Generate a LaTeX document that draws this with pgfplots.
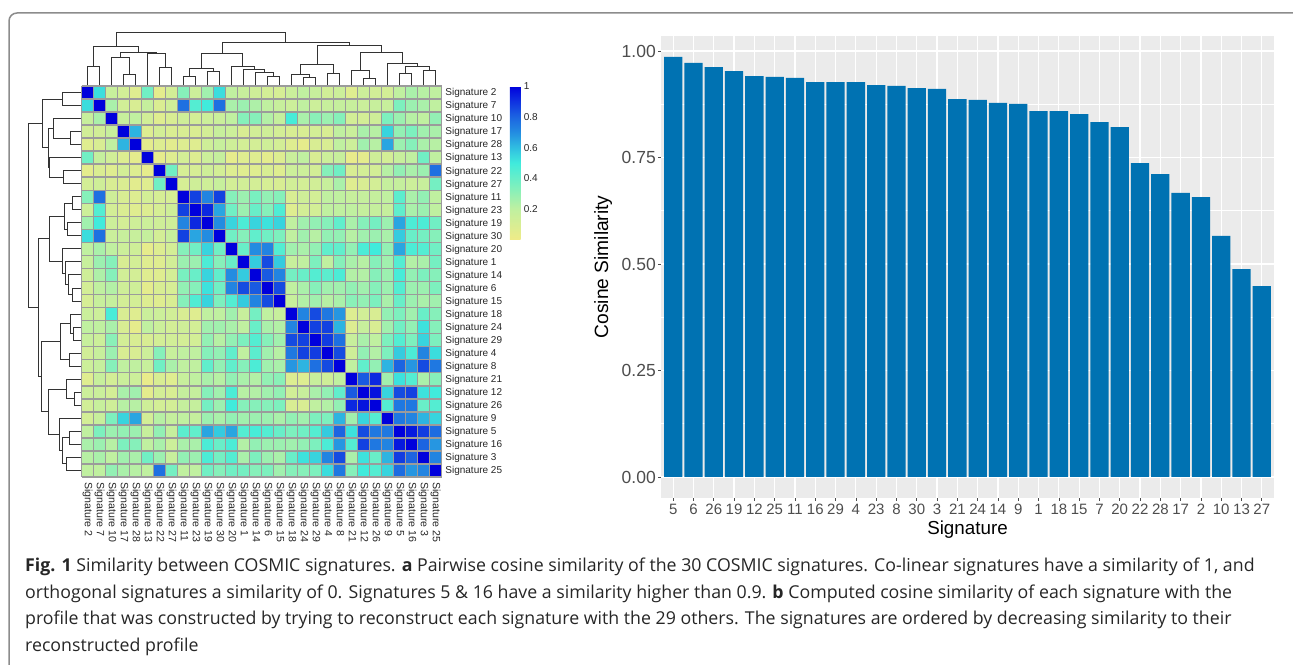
\documentclass[border=0pt]{standalone}
\usepackage{fontspec}
\setmainfont{Liberation Sans}
\newfontfamily\capfont{Open Sans}
\usepackage{pgfplots}
\usepackage{pgfplotstable}
\pgfplotsset{compat=1.18}
\definecolor{cellgray}{RGB}{155,155,155}
\definecolor{barblue}{RGB}{0,114,178}
\definecolor{panelgray}{RGB}{235,235,235}
\definecolor{ticktext}{RGB}{77,77,77}
\definecolor{framegray}{RGB}{140,140,140}
\pgfdeclareplotmark{cell}{%
  \pgfpathrectangle{\pgfpoint{-6.1pt}{-6.6pt}}{\pgfpoint{12.2pt}{13.2pt}}%
  \pgfusepathqfill}
\pgfplotstableread[header=false]{
1 .53 .17 .13 .07 .38 .05 .12 .33 .15 .27 .53 .2 .17 .14 .12 .11 .16 .2 .17 .13 .15 .07 .15 .13 .12 .2 .25 .22 .2
.53 1 .25 .13 .1 .18 .09 .14 .77 .45 .5 .77 .25 .28 .24 .2 .17 .15 .2 .15 .17 .18 .17 .16 .17 .17 .35 .28 .25 .2
.17 .25 1 .17 .2 .13 .07 .1 .14 .12 .15 .16 .2 .33 .33 .23 .18 .48 .25 .32 .28 .33 .12 .12 .14 .35 .28 .22 .2 .3
.13 .13 .17 1 .62 .08 .12 .09 .1 .09 .12 .17 .15 .1 .13 .14 .12 .1 .1 .12 .1 .2 .16 .25 .22 .55 .3 .35 .27 .25
.07 .1 .2 .62 1 .05 .08 .06 .08 .07 .14 .17 .14 .12 .12 .14 .12 .07 .04 .1 .1 .2 .15 .27 .22 .65 .28 .33 .25 .22
.38 .18 .13 .08 .05 1 .04 .07 .12 .08 .15 .18 .04 .07 .07 .05 .08 .16 .2 .1 .15 .17 .03 .05 .14 .12 .17 .2 .38 .2
.05 .09 .07 .12 .08 .04 1 .38 .11 .11 .14 .12 .08 .07 .07 .1 .07 .15 .15 .12 .33 .38 .1 .12 .12 .22 .3 .25 .28 .77
.12 .14 .1 .09 .06 .07 .38 1 .11 .14 .14 .17 .12 .13 .12 .11 .1 .13 .12 .13 .17 .25 .07 .1 .12 .18 .18 .15 .17 .37
.33 .77 .14 .1 .08 .12 .11 .11 1 .87 .72 .87 .33 .28 .36 .3 .33 .1 .14 .12 .2 .2 .17 .18 .18 .2 .43 .25 .3 .2
.15 .45 .12 .09 .07 .08 .11 .14 .87 1 .92 .65 .38 .28 .4 .33 .46 .07 .12 .12 .2 .2 .2 .18 .18 .18 .42 .25 .28 .2
.27 .5 .15 .12 .14 .15 .14 .14 .72 .92 1 .7 .55 .47 .55 .52 .55 .2 .27 .3 .33 .42 .25 .33 .37 .28 .65 .47 .47 .38
.53 .77 .16 .17 .17 .18 .12 .17 .87 .65 .7 1 .38 .33 .42 .38 .35 .2 .27 .22 .3 .3 .22 .27 .28 .25 .57 .4 .37 .33
.2 .25 .2 .15 .14 .04 .08 .12 .33 .38 .55 .38 1 .4 .7 .72 .45 .27 .25 .3 .42 .42 .3 .47 .5 .3 .65 .47 .45 .38
.17 .28 .33 .1 .12 .07 .07 .13 .28 .28 .47 .33 .4 1 .57 .85 .57 .17 .2 .35 .2 .33 .25 .22 .33 .27 .45 .23 .25 .37
.14 .24 .33 .13 .12 .07 .07 .12 .36 .4 .55 .42 .7 .57 1 .82 .72 .37 .4 .45 .43 .47 .23 .23 .33 .28 .48 .3 .35 .33
.12 .2 .23 .14 .14 .05 .1 .11 .3 .33 .52 .38 .72 .85 .82 1 .85 .2 .25 .33 .27 .27 .3 .27 .33 .28 .45 .28 .28 .35
.11 .17 .18 .12 .12 .08 .07 .1 .33 .46 .55 .35 .45 .57 .72 .85 1 .17 .23 .27 .22 .25 .32 .3 .35 .25 .4 .28 .25 .27
.16 .15 .48 .1 .07 .16 .15 .13 .1 .07 .2 .2 .27 .17 .37 .2 .17 1 .72 .85 .75 .68 .08 .13 .1 .3 .35 .27 .4 .33
.2 .2 .25 .1 .04 .2 .15 .12 .14 .12 .27 .27 .25 .2 .4 .25 .23 .72 1 .87 .87 .62 .08 .17 .1 .27 .38 .3 .52 .33
.17 .15 .32 .12 .1 .1 .12 .13 .12 .12 .3 .22 .3 .35 .45 .33 .27 .85 .87 1 .88 .77 .17 .25 .2 .35 .45 .35 .55 .35
.13 .17 .28 .1 .1 .15 .33 .17 .2 .2 .33 .3 .42 .2 .43 .27 .22 .75 .87 .88 1 .85 .14 .3 .23 .35 .57 .47 .72 .53
.15 .18 .33 .2 .2 .17 .38 .25 .2 .2 .42 .3 .42 .33 .47 .27 .25 .68 .62 .77 .85 1 .2 .42 .3 .62 .8 .68 .85 .75
.07 .17 .12 .16 .15 .03 .1 .07 .17 .2 .25 .22 .3 .25 .23 .3 .32 .08 .08 .17 .14 .2 1 .82 .92 .27 .52 .45 .25 .33
.15 .16 .12 .25 .27 .05 .12 .1 .18 .18 .33 .27 .47 .22 .23 .27 .3 .13 .17 .25 .3 .42 .82 1 .96 .55 .85 .87 .52 .5
.13 .17 .14 .22 .22 .14 .12 .12 .18 .18 .37 .28 .5 .33 .33 .33 .35 .1 .1 .2 .23 .3 .92 .96 1 .45 .75 .75 .4 .45
.12 .17 .35 .55 .65 .12 .22 .18 .2 .18 .28 .25 .3 .27 .28 .28 .25 .3 .27 .35 .35 .62 .27 .55 .45 1 .75 .72 .62 .55
.2 .35 .28 .3 .28 .17 .3 .18 .43 .42 .65 .57 .65 .45 .48 .45 .4 .35 .38 .45 .57 .8 .52 .85 .75 .75 1 .95 .88 .78
.25 .28 .22 .35 .33 .2 .25 .15 .25 .25 .47 .4 .47 .23 .3 .28 .28 .27 .3 .35 .47 .68 .45 .87 .75 .72 .95 1 .8 .68
.22 .25 .2 .27 .25 .38 .28 .17 .3 .28 .47 .37 .45 .25 .35 .28 .25 .4 .52 .55 .72 .85 .25 .52 .4 .62 .88 .8 1 .72
.2 .2 .3 .25 .22 .2 .77 .37 .2 .2 .38 .33 .38 .37 .33 .35 .27 .33 .33 .35 .53 .75 .33 .5 .45 .55 .78 .68 .72 1
}\heat
\pgfplotstableread[row sep=crcr]{
p h\\
0 0\\0 19.3\\1 19.3\\1 0\\nan nan\\
3 0\\3 11\\4 11\\4 0\\nan nan\\
2 0\\2 28.7\\3.5 28.7\\3.5 11\\nan nan\\
6 0\\6 18.3\\7 18.3\\7 0\\nan nan\\
5 0\\5 32.3\\6.5 32.3\\6.5 18.3\\nan nan\\
2.75 28.7\\2.75 33\\5.75 33\\5.75 32.3\\nan nan\\
0.5 19.3\\0.5 39.3\\4.25 39.3\\4.25 33\\nan nan\\
8 0\\8 9.3\\9 9.3\\9 0\\nan nan\\
10 0\\10 14.3\\11 14.3\\11 0\\nan nan\\
8.5 9.3\\8.5 17.3\\10.5 17.3\\10.5 14.3\\nan nan\\
15 0\\15 9.3\\16 9.3\\16 0\\nan nan\\
14 0\\14 13.3\\15.5 13.3\\15.5 9.3\\nan nan\\
13 0\\13 16\\14.75 16\\14.75 13.3\\nan nan\\
12 0\\12 19.3\\13.875 19.3\\13.875 16\\nan nan\\
9.5 17.3\\9.5 32.7\\12.94 32.7\\12.94 19.3\\nan nan\\
18 0\\18 8.7\\19 8.7\\19 0\\nan nan\\
17 0\\17 11\\18.5 11\\18.5 8.7\\nan nan\\
20 0\\20 12\\21 12\\21 0\\nan nan\\
17.75 11\\17.75 21.7\\20.5 21.7\\20.5 12\\nan nan\\
23 0\\23 7.3\\24 7.3\\24 0\\nan nan\\
22 0\\22 15.3\\23.5 15.3\\23.5 7.3\\nan nan\\
26 0\\26 12.7\\27 12.7\\27 0\\nan nan\\
28 0\\28 15\\29 15\\29 0\\nan nan\\
26.5 12.7\\26.5 19.3\\28.5 19.3\\28.5 15\\nan nan\\
25 0\\25 22.7\\27.5 22.7\\27.5 19.3\\nan nan\\
22.75 15.3\\22.75 33.3\\26.25 33.3\\26.25 22.7\\nan nan\\
19.125 21.7\\19.125 40.3\\24.5 40.3\\24.5 33.3\\nan nan\\
11.22 32.7\\11.22 43.7\\21.8 43.7\\21.8 40.3\\nan nan\\
2.375 39.3\\2.375 53.3\\16.5 53.3\\16.5 43.7\\nan nan\\
}\dendro
\pgfplotstableread{
k v
0 .986
1 .972
2 .962
3 .953
4 .941
5 .939
6 .937
7 .927
8 .927
9 .927
10 .920
11 .918
12 .913
13 .911
14 .887
15 .885
16 .878
17 .876
18 .859
19 .859
20 .852
21 .833
22 .821
23 .737
24 .711
25 .667
26 .657
27 .566
28 .488
29 .448
}\bars
\def\signames{Signature 2,Signature 7,Signature 10,Signature 17,Signature 28,Signature 13,Signature 22,Signature 27,Signature 11,Signature 23,Signature 19,Signature 30,Signature 20,Signature 1,Signature 14,Signature 6,Signature 15,Signature 18,Signature 24,Signature 29,Signature 4,Signature 8,Signature 21,Signature 12,Signature 26,Signature 9,Signature 5,Signature 16,Signature 3,Signature 25}
\begin{document}
\begin{tikzpicture}[x=1pt,y=1pt]
\path[use as bounding box,clip] (0,0) rectangle (1293,664);
\draw[framegray,line width=1.5pt,rounded corners=8pt] (9,-30) rectangle (1320,651);
% dendrograms
\begin{axis}[at={(81.7pt,578pt)},anchor=south west,scale only axis,width=360pt,height=60pt,
  xmin=-.5,xmax=29.5,ymin=0,ymax=60,hide axis,clip=false,unbounded coords=jump]
\addplot[black!80,line width=1pt,mark=none] table[x=p,y=h]{\dendro};
\end{axis}
\begin{axis}[at={(21.7pt,187pt)},anchor=south west,scale only axis,width=60pt,height=391pt,
  ymin=-.5,ymax=29.5,xmin=0,xmax=60,x dir=reverse,y dir=reverse,hide axis,clip=false,unbounded coords=jump]
\addplot[black!80,line width=1pt,mark=none] table[x=h,y=p]{\dendro};
\end{axis}
% heat map
\begin{axis}[at={(81.7pt,187pt)},anchor=south west,scale only axis,width=360pt,height=391pt,
  xmin=-.5,xmax=29.5,ymin=-.5,ymax=29.5,y dir=reverse,clip=false,
  axis line style={draw=none},major tick length=0pt,
  xtick={0,...,29},ytick={0,...,29},
  xticklabels/.expand once=\signames,yticklabels/.expand once=\signames,
  xticklabel pos=lower,yticklabel pos=upper,
  xticklabel style={font=\fontsize{10.6}{11}\selectfont,text=black!85,rotate=-90,anchor=west,inner sep=0pt,xshift=5pt},
  yticklabel style={font=\fontsize{10}{11}\selectfont,text=black!85,anchor=west,inner sep=0pt,xshift=3.5pt,yshift=-.7pt},
  point meta min=0,point meta max=1,
  colormap={hm}{rgb255(0)=(240,235,135) rgb255(20)=(192,240,160) rgb255(35)=(125,240,190) rgb255(50)=(64,235,220) rgb255(60)=(48,190,225) rgb255(70)=(35,140,225) rgb255(80)=(28,100,225) rgb255(90)=(15,50,225) rgb255(100)=(0,0,220)},
  colorbar,
  colorbar style={at={(1.1897,1)},anchor=north west,width=10.7pt,height=154pt,
    ytick={.2,.4,.6,.8,1},yticklabels={0.2,0.4,0.6,0.8,1},yticklabel pos=right,
    axis line style={draw=none},major tick length=0pt,
    yticklabel style={font=\fontsize{10}{11}\selectfont,text=black!85,inner sep=0pt,xshift=3pt,anchor=west}},
  ]
\pgfplotsinvokeforeach{0,...,29}{
\addplot[scatter,only marks,mark=cell,scatter src=explicit,
  scatter/use mapped color={draw=none,fill=mapped color}]
  table[x expr=#1,y expr=\coordindex,meta index=#1]{\heat};
}
\end{axis}
% cell borders
\begin{axis}[at={(81.7pt,187pt)},anchor=south west,scale only axis,width=360pt,height=391pt,
  xmin=-.5,xmax=29.5,ymin=-.5,ymax=29.5,y dir=reverse,
  axis line style={draw=none},major tick length=0pt,
  xtick={-.5,.5,...,29.5},ytick={-.5,.5,...,29.5},
  xticklabels={},yticklabels={},
  xmajorgrids,ymajorgrids,
  major grid style={cellgray,line width=1.5pt},
  ]
\end{axis}
% bar chart
\begin{axis}[at={(661pt,166.3pt)},anchor=south west,scale only axis,width=613pt,height=461.7pt,
  xmin=-.6,xmax=29.6,ymin=-.0486,ymax=1.0352,
  axis background/.style={fill=panelgray},
  axis line style={draw=none},
  ybar,bar width=18.3pt,
  xtick pos=lower,ytick pos=left,
  xtick={0,...,29},
  xticklabels={5,6,26,19,12,25,11,16,29,4,23,8,30,3,21,24,14,9,1,18,15,7,20,22,28,17,2,10,13,27},
  ytick={0,.25,.5,.75,1},yticklabels={0.00,0.25,0.50,0.75,1.00},
  minor ytick={.125,.375,.625,.875},
  xmajorgrids,ymajorgrids,yminorgrids,
  major grid style={white,line width=1.2pt},
  minor grid style={white,line width=.7pt},
  tick align=outside,major tick length=3pt,minor tick length=0pt,
  major tick style={draw=black!70,line width=.7pt},
  xticklabel style={font=\fontsize{15}{16}\selectfont,text=ticktext,inner sep=0pt,yshift=-3pt},
  yticklabel style={font=\fontsize{17.5}{18}\selectfont,text=ticktext,inner sep=0pt,xshift=-2pt},
  xlabel={Signature},ylabel={Cosine Similarity},
  xlabel style={font=\fontsize{18.8}{20}\selectfont,yshift=-3pt},
  ylabel style={font=\fontsize{19.2}{20}\selectfont,yshift=6pt},
  ]
\addplot[fill=barblue,draw=none] table[x=k,y=v]{\bars};
\end{axis}
% caption
\begin{scope}[every node/.style={anchor=base west,inner sep=0pt,font=\capfont\fontsize{17.75}{20}\selectfont,text=black!85}]
\node at (25,92) {\textbf{Fig. 1} Similarity between COSMIC signatures. \textbf{a} Pairwise cosine similarity of the 30 COSMIC signatures. Co-linear signatures have a similarity of 1, and};
\node at (25,65.5) {orthogonal signatures a similarity of 0. Signatures 5 \& 16 have a similarity higher than 0.9. \textbf{b} Computed cosine similarity of each signature with the};
\node at (25,39) {profile that was constructed by trying to reconstruct each signature with the 29 others. The signatures are ordered by decreasing similarity to their};
\node at (25,12.5) {reconstructed profile};
\end{scope}
\end{tikzpicture}
\end{document}
